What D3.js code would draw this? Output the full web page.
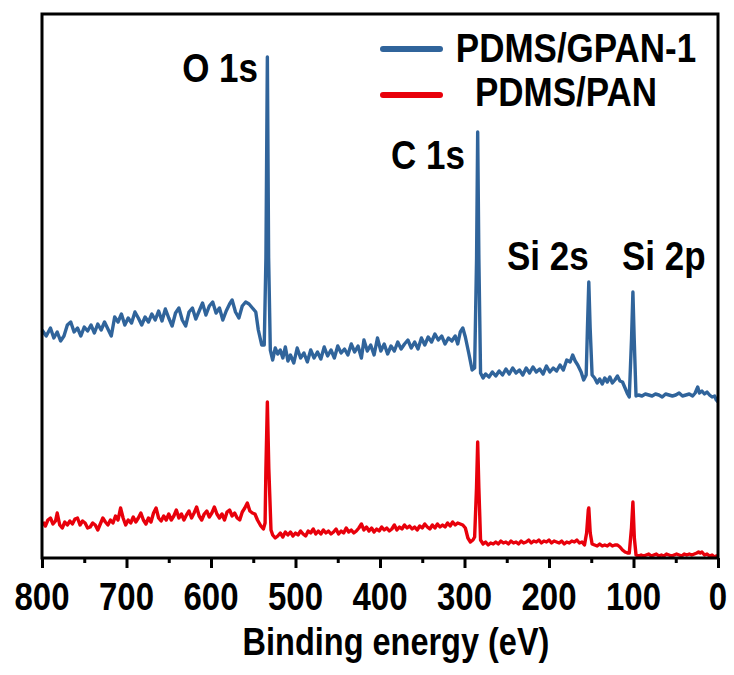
<!DOCTYPE html>
<html>
<head>
<meta charset="utf-8">
<script src="https://cdn.jsdelivr.net/npm/d3@7"></script>
<style>
  body { margin: 0; background: #fff; }
  svg { display: block; }
  text { font-family: "Liberation Sans", Arial, sans-serif; font-weight: bold; fill: #000; }
</style>
</head>
<body>
<svg id="chart"></svg>
<script>
/* Spectra as [binding energy (eV), intensity (a.u.)]. */
const gpanSpectrum = [
  [800, 228], [795, 222], [790, 230], [786, 220], [782, 226], [778, 217], [774, 222], [770, 233], [766, 236], [762, 226],
  [758, 230], [754, 222], [750, 231], [746, 227], [742, 233], [738, 225], [734, 234], [730, 228], [726, 236], [722, 229],
  [718, 222], [714, 241], [710, 236], [706, 244], [702, 233], [698, 240], [694, 235], [690, 246], [686, 240], [682, 233],
  [678, 241], [674, 236], [670, 244], [666, 238], [662, 247], [658, 237], [654, 249], [650, 240], [646, 232], [642, 245],
  [638, 250], [634, 238], [630, 232], [626, 246], [622, 250], [618, 239], [614, 247], [610, 255], [606, 243], [602, 252],
  [598, 256], [594, 245], [590, 250], [586, 238], [582, 247], [578, 254], [575, 258], [571, 246], [567, 240], [563, 252],
  [559, 256], [555, 254], [551, 250], [547, 246], [544, 228], [540, 213], [537, 213], [535, 300], [533.3, 501], [531.8, 300],
  [529.8, 208], [527, 198], [524, 210], [521, 204], [518, 208], [515, 200], [512, 211], [509, 197], [506, 203], [502, 195],
  [498, 210], [494, 200], [490, 205], [486, 196], [482, 208], [478, 200], [474, 206], [470, 199], [466, 211], [462, 202],
  [458, 208], [454, 200], [450, 212], [446, 205], [442, 209], [438, 203], [434, 214], [430, 206], [426, 212], [422, 200],
  [419, 218], [415, 207], [411, 213], [407, 203], [403, 220], [399, 207], [395, 214], [391, 204], [387, 212], [383, 207],
  [379, 216], [375, 209], [371, 214], [367, 218], [363, 210], [359, 216], [355, 209], [351, 220], [347, 213], [343, 221],
  [339, 216], [335, 224], [331, 218], [327, 222], [323, 214], [319, 220], [315, 217], [311, 222], [308, 214], [305, 226],
  [302, 230], [299, 221], [295, 205], [291, 188], [288, 190], [285.7, 300], [284.4, 426], [283, 300], [281, 185], [278, 180],
  [275, 184], [271, 181], [267, 186], [263, 182], [259, 187], [255, 183], [251, 189], [247, 184], [243, 190], [239, 185],
  [235, 188], [231, 183], [227, 190], [223, 185], [219, 191], [215, 186], [211, 189], [207, 184], [203, 192], [199, 186],
  [195, 190], [191, 187], [187, 193], [183, 188], [179, 198], [175, 196], [172, 203], [169, 197], [166, 193], [162, 186],
  [159, 178], [156, 183], [154.5, 230], [152.9, 276], [151.3, 230], [149, 183], [146, 180], [143, 175], [140, 179], [137, 174],
  [134, 180], [131, 176], [128, 181], [125, 175], [122, 178], [119, 182], [116, 177], [113, 176], [110, 170], [107, 164],
  [105, 161], [102.3, 220], [100.7, 266], [99.2, 220], [97, 162], [94, 163], [90, 162], [86, 164], [82, 163], [78, 162],
  [74, 164], [70, 163], [66, 161], [62, 164], [58, 163], [54, 162], [50, 163], [46, 165], [42, 162], [38, 163],
  [34, 164], [30, 162], [27, 165], [24, 171], [22, 165], [19, 167], [16, 164], [13, 166], [10, 163], [7, 161],
  [4, 162], [2, 158], [0, 156]
]

const panSpectrum = [
  [799, 36], [796, 32], [793, 38], [790, 40], [787, 34], [784, 37], [782, 45], [779, 33], [776, 30], [773, 36],
  [770, 33], [767, 37], [764, 34], [761, 39], [758, 40], [755, 33], [752, 37], [749, 35], [746, 30], [743, 31],
  [740, 35], [737, 33], [734, 28], [731, 34], [728, 40], [725, 36], [722, 33], [719, 38], [716, 35], [713, 42],
  [710, 38], [707, 50], [704, 40], [701, 33], [698, 38], [695, 35], [692, 41], [689, 36], [686, 40], [683, 45],
  [680, 38], [677, 34], [674, 40], [671, 36], [668, 45], [665, 50], [662, 40], [659, 37], [656, 42], [653, 38],
  [650, 44], [647, 38], [644, 42], [641, 48], [638, 40], [635, 44], [632, 38], [629, 43], [626, 47], [623, 40],
  [620, 45], [617, 51], [614, 42], [611, 38], [608, 44], [605, 47], [602, 41], [599, 45], [596, 51], [593, 44],
  [590, 40], [587, 44], [584, 38], [581, 46], [578, 48], [575, 42], [572, 45], [569, 40], [566, 38], [563, 46],
  [560, 50], [557, 55], [554, 47], [551, 45], [548, 44], [545, 38], [541, 32], [538, 29], [536, 35], [535, 90],
  [533.3, 156], [531.6, 90], [529, 28], [527, 23], [524, 20], [521, 22], [518, 25], [515, 21], [512, 26], [509, 23],
  [506, 26], [503, 22], [500, 25], [497, 23], [494, 27], [491, 24], [488, 22], [485, 27], [482, 25], [479, 29],
  [476, 24], [473, 27], [470, 24], [467, 28], [464, 25], [461, 27], [458, 24], [455, 26], [452, 29], [449, 24],
  [446, 27], [443, 25], [440, 30], [437, 26], [434, 28], [431, 25], [428, 27], [425, 30], [422, 34], [419, 28],
  [416, 31], [413, 27], [410, 30], [407, 26], [404, 29], [401, 27], [398, 31], [395, 28], [392, 30], [389, 27],
  [386, 29], [383, 33], [380, 28], [377, 31], [374, 29], [371, 33], [368, 30], [365, 32], [362, 29], [359, 31],
  [356, 28], [353, 32], [350, 30], [347, 34], [344, 31], [341, 29], [338, 33], [335, 30], [332, 34], [329, 31],
  [326, 33], [323, 31], [320, 35], [317, 32], [314, 36], [311, 33], [308, 35], [305, 34], [302, 33], [299, 30],
  [296, 20], [293, 16], [290, 18], [288, 21], [285.8, 70], [284.4, 116], [283, 70], [281, 18], [278, 14], [275, 16],
  [272, 13], [269, 15], [266, 14], [263, 16], [260, 14], [257, 17], [254, 15], [251, 16], [248, 14], [245, 17],
  [242, 15], [239, 16], [236, 14], [233, 17], [230, 15], [227, 16], [224, 18], [221, 15], [218, 17], [215, 16],
  [212, 18], [209, 15], [206, 17], [203, 16], [200, 18], [197, 15], [194, 17], [191, 16], [188, 15], [185, 17],
  [182, 14], [179, 16], [176, 15], [173, 17], [170, 16], [167, 18], [164, 15], [161, 16], [158, 13], [155.5, 25],
  [153.5, 48], [152.9, 50], [151.2, 25], [149, 14], [146, 13], [143, 12], [140, 14], [137, 12], [134, 13], [131, 12],
  [128, 14], [125, 12], [122, 13], [119, 13], [116, 11], [113, 8], [110, 6], [107, 5], [105, 5], [102.4, 30],
  [100.7, 56], [99, 20], [97, 3], [94, 2], [91, 3], [88, 2], [85, 3], [82, 4], [79, 2], [76, 3],
  [73, 4], [70, 2], [67, 3], [64, 2], [61, 4], [58, 3], [55, 2], [52, 3], [49, 4], [46, 3],
  [43, 2], [40, 4], [37, 3], [34, 4], [31, 3], [28, 4], [25, 5], [23, 6], [21, 5], [19, 6],
  [16, 3], [13, 4], [10, 2], [7, 3], [4, 1], [2, 2], [0, 2]
]

/* Series names, colours and peak labels. */
const seriesNames = ["PDMS/GPAN-1", "PDMS/PAN"]
const seriesColors = ["#30649b", "#e8000b"]
const peakLabels = ["O 1s", "C 1s", "Si 2s", "Si 2p"]
const xTicks = [800, 700, 600, 500, 400, 300, 200, 100, 0]
const xMinorTicks = [750, 650, 550, 450, 350, 250, 150, 50]

/* Size and margins. */
const width = 734
const height = 675
const margin = { top: 14, right: 16, bottom: 117, left: 42 }
const stretch = 1.18

const svg = d3.select("#chart")
  .attr("width", width)
  .attr("height", height)

/* Scales. */
const xScale = d3.scaleLinear()
  .domain([800, 0])
  .range([margin.left, width - margin.right])

const yScale = d3.scaleLinear()
  .domain([0, 544])
  .range([height - margin.bottom, margin.top])

/* Helper for the tall bold text of the figure. */
const addText = (x, y, str, size, anchor) => {
  svg.append("text")
    .attr("transform", `translate(${x},${y}) scale(1,${stretch})`)
    .attr("text-anchor", anchor)
    .style("font-size", size + "px")
    .text(str)
}

/* Line generator. */
const line = d3.line()
  .x(d => xScale(d[0]))
  .y(d => yScale(d[1]))

svg.selectAll(".spectrum")
  .data([gpanSpectrum, panSpectrum])
  .join("path")
  .attr("class", "spectrum")
  .attr("d", d => line(d))
  .attr("fill", "none")
  .attr("stroke", (d, i) => seriesColors[i])
  .attr("stroke-width", 3.4)
  .attr("stroke-linejoin", "round")

/* Frame. */
svg.append("rect")
  .attr("x", xScale(800))
  .attr("y", yScale(544))
  .attr("width", xScale(0) - xScale(800))
  .attr("height", yScale(0) - yScale(544))
  .attr("fill", "none")
  .attr("stroke", "#000")
  .attr("stroke-width", 3)

/* Bottom axis: major ticks. */
svg.append("g")
  .attr("transform", `translate(0,${yScale(0)})`)
  .call(d3.axisBottom(xScale).tickValues(xTicks).tickSize(10).tickFormat(""))
  .call(g => g.select(".domain").remove())
  .call(g => g.selectAll("line").attr("stroke-width", 3))

/* Bottom axis: minor ticks. */
svg.append("g")
  .attr("transform", `translate(0,${yScale(0)})`)
  .call(d3.axisBottom(xScale).tickValues(xMinorTicks).tickSize(5).tickFormat(""))
  .call(g => g.select(".domain").remove())
  .call(g => g.selectAll("line").attr("stroke-width", 3))

/* Tick labels. */
xTicks.forEach(t => addText(xScale(t), 610, t, 33, "middle"))

/* Axis title. */
addText(396, 655, "Binding energy (eV)", 32.5, "middle")

/* Peak labels. */
addText(258, 82, peakLabels[0], 35, "end")
addText(465, 169, peakLabels[1], 35, "end")
addText(507, 270, peakLabels[2], 35, "start")
addText(622, 270, peakLabels[3], 35, "start")

/* Legend. */
const legendY = [49, 95]
seriesNames.forEach((name, i) => {
  svg.append("line")
    .attr("x1", 383)
    .attr("x2", 440)
    .attr("y1", legendY[i])
    .attr("y2", legendY[i])
    .attr("stroke", seriesColors[i])
    .attr("stroke-width", 6)
    .attr("stroke-linecap", "round")
})
addText(576, 62, seriesNames[0], 35, "middle")
addText(566, 106, seriesNames[1], 35, "middle")
</script>
</body>
</html>
